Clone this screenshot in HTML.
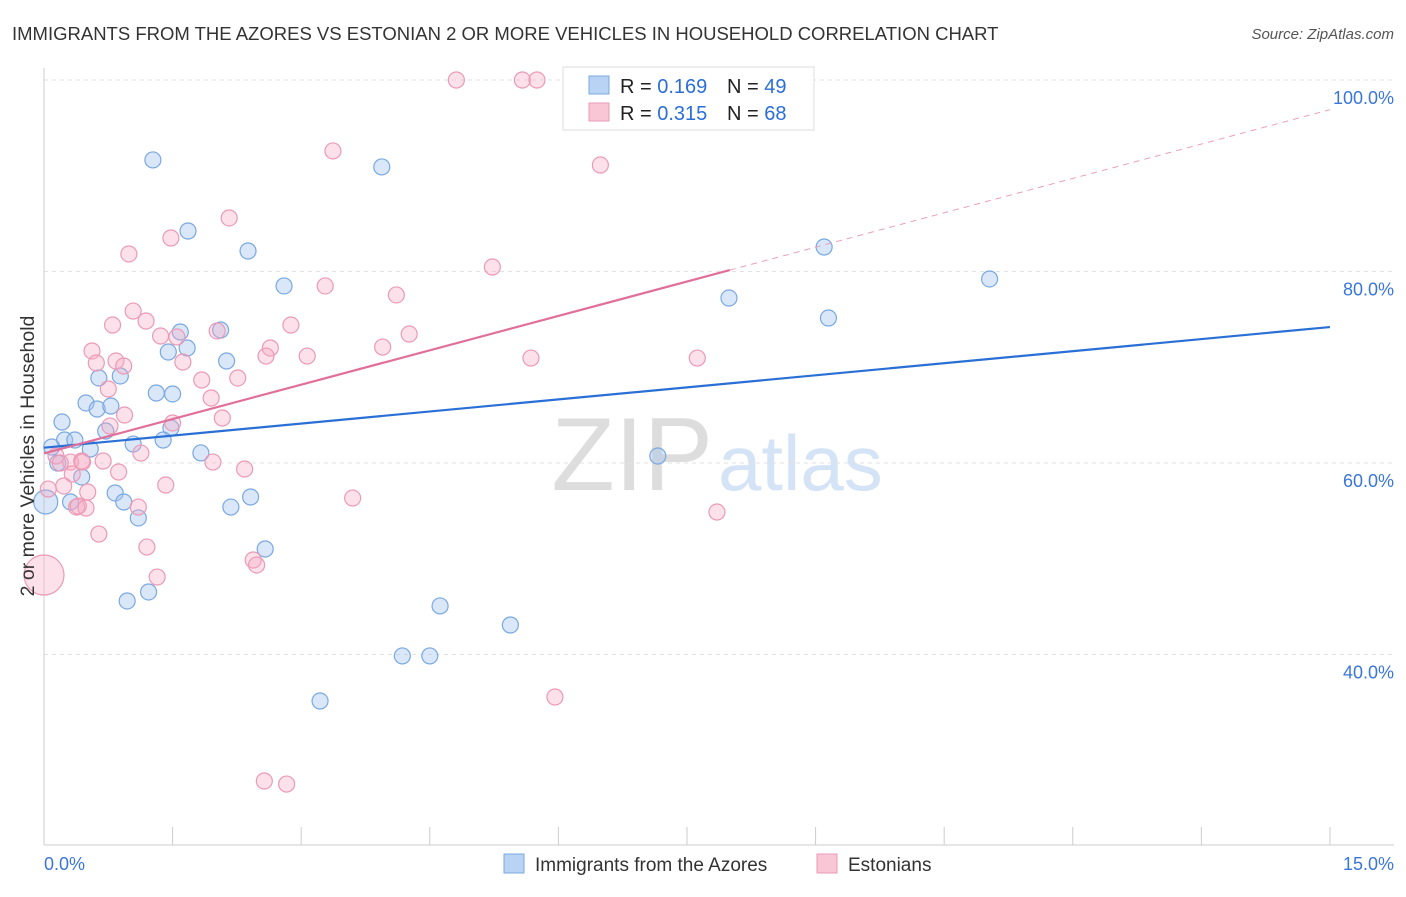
<!DOCTYPE html>
<html><head><meta charset="utf-8"><style>
body{margin:0;background:#fff;font-family:"Liberation Sans",sans-serif}
svg text{font-family:"Liberation Sans",sans-serif}
</style></head><body>
<svg id="c" width="1406" height="892" xmlns="http://www.w3.org/2000/svg">
<text x="12" y="40" font-size="18.5" fill="#333">IMMIGRANTS FROM THE AZORES VS ESTONIAN 2 OR MORE VEHICLES IN HOUSEHOLD CORRELATION CHART</text>
<text x="1394" y="39" font-size="15" fill="#555" font-style="italic" text-anchor="end">Source: ZipAtlas.com</text>
<text x="713" y="490" font-size="104" fill="#ddd" text-anchor="end" font-family="Liberation Serif">ZIP</text>
<text x="718" y="490" font-size="78" fill="#d4e3f5">atlas</text>
<g id="grid"></g><g id="marks"></g><g id="lines"></g>
<text transform="translate(34,456) rotate(-90)" font-size="19.5" fill="#333" text-anchor="middle">2 or more Vehicles in Household</text>
<g>
<rect x="563" y="67" width="251" height="63" fill="#fff" stroke="#ddd"/>
<rect x="589" y="76" width="20" height="18" fill="#b9d3f5" stroke="#7aa8e0"/>
<rect x="589" y="103" width="20" height="18" fill="#f9c6d5" stroke="#eb9ab5"/>
<text x="620" y="93" font-size="20" fill="#222">R = <tspan fill="#2a6fd6">0.169</tspan></text>
<text x="727" y="93" font-size="20" fill="#222">N = <tspan fill="#2a6fd6">49</tspan></text>
<text x="620" y="120" font-size="20" fill="#222">R = <tspan fill="#2a6fd6">0.315</tspan></text>
<text x="727" y="120" font-size="20" fill="#222">N = <tspan fill="#2a6fd6">68</tspan></text>
</g>
<g>
<rect x="504" y="854" width="20" height="19" fill="#b9d3f5" stroke="#7aa8e0"/>
<text x="535" y="871" font-size="19" fill="#333">Immigrants from the Azores</text>
<rect x="817" y="854" width="20" height="19" fill="#f9c6d5" stroke="#eb9ab5"/>
<text x="848" y="871" font-size="19" fill="#333">Estonians</text>
</g>
<text x="44" y="870" font-size="18" fill="#3a76d8">0.0%</text>
<text x="1394" y="870" font-size="18" fill="#3a76d8" text-anchor="end">15.0%</text>
</svg>
<script>
const yTicks=[40,60,80,100];
const yTickLabels=["40.0%","60.0%","80.0%","100.0%"];
const blueX=[1.27,3.94,1.68,2.38,9.10,11.03,2.80,7.99,9.15,1.59,2.06,1.45,1.67,2.13,0.89,0.64,1.31,1.50,0.49,0.62,0.78,0.21,0.72,1.48,0.24,0.36,1.04,1.39,0.54,0.09,1.83,7.16,0.16,0.44,0.83,0.93,0.31,2.41,2.18,1.10,0.02,2.58,0.97,1.22,4.62,5.44,4.18,4.50,3.22];
const blueY=[91.65,90.92,84.23,82.14,82.56,79.22,78.49,77.23,75.14,73.68,73.89,71.59,72.01,70.65,69.09,68.88,67.31,67.21,66.27,65.64,65.95,64.28,63.34,63.66,62.40,62.40,61.98,62.40,61.46,61.67,61.05,60.73,60,58.54,56.87,55.93,55.93,56.45,55.40,54.26,55.93,51.02,45.59,46.53,45.07,43.08,39.85,39.85,35.14];
const blueBig=[40];
const pinkX=[4.81,5.58,5.75,3.37,6.49,2.16,0.99,1.48,5.23,3.28,4.11,1.04,0.80,1.19,2.88,2.02,4.26,1.36,1.55,0.56,2.64,3.95,5.68,7.62,3.07,2.59,0.84,0.61,0.93,1.62,1.84,2.26,0.75,1.95,0.94,2.08,1.50,0.77,0.14,1.13,0.31,0.44,0.69,1.97,2.34,0.87,0.33,0.23,1.42,0.05,0.51,3.60,0.38,1.10,0.49,7.85,0.64,1.20,0,1.32,2.44,2.48,5.96,2.57,2.83,0.45,0.19,0.40];
const pinkY=[100,100,100,92.59,91.12,85.59,81.83,83.50,80.47,78.49,77.55,75.87,74.41,74.83,74.41,73.79,73.47,73.26,73.16,71.70,72.01,72.11,70.96,70.96,71.17,71.17,70.65,70.44,70.13,70.55,68.67,68.88,67.73,66.79,65.01,64.70,64.18,63.86,60.73,61.04,60.10,60.21,60.21,60.10,59.37,59.06,58.85,57.60,57.70,57.28,56.97,56.34,55.40,55.40,55.30,54.88,52.58,51.22,48.30,48.09,49.87,49.35,35.56,26.79,26.47,60.10,60,55.5];
const pinkBig=[58];
const blueTrend=[61.6,74.2];
const pinkTrend=[61.0,96.9];
const pinkSolidEnd=8.0;
const NS="http://www.w3.org/2000/svg";
const X=v=>44+v*85.73, Y=v=>463-(v-60)*9.575;
function mk(t,a,p){const e=document.createElementNS(NS,t);for(const k in a)e.setAttribute(k,a[k]);p.appendChild(e);return e;}
const g=document.getElementById('grid'),m=document.getElementById('marks'),l=document.getElementById('lines');
yTicks.forEach((t,i)=>{const ln=mk('line',{x1:44,x2:1394,y1:Y(t),y2:Y(t),stroke:'#e2e2e2','stroke-dasharray':'4,4'},g);


const tx=mk('text',{x:1394,y:Y(t)+24,'font-size':18,fill:'#3a76d8','text-anchor':'end'},g);tx.textContent=yTickLabels[i];

});
const ax=mk('line',{x1:44,x2:1394,y1:845,y2:845,stroke:'#ccc'},g);


const ay=mk('line',{x1:44,x2:44,y1:68,y2:845,stroke:'#ccc'},g);


for(let i=0;i<=10;i++){const tk=mk('line',{x1:X(i*1.5),x2:X(i*1.5),y1:827,y2:845,stroke:'#ccc'},g);

}
function pts(xs,ys,big,fill,stroke,name){xs.forEach((x,i)=>{const c=mk('circle',{cx:X(x),cy:Y(ys[i]),r:big.includes(i)?(name=='pink-point'?20:12):8,fill:fill,stroke:stroke,'stroke-width':1.2},m);

});}
pts(blueX,blueY,blueBig,'rgba(160,195,240,0.4)','#7aa8e0','blue-point');
pts(pinkX,pinkY,pinkBig,'rgba(245,170,195,0.35)','#eb9ab5','pink-point');
const bt=mk('line',{x1:X(0),y1:Y(blueTrend[0]),x2:X(15),y2:Y(blueTrend[1]),stroke:'#2a6fd6','stroke-width':2.2},l);


const py=x=>pinkTrend[0]+(pinkTrend[1]-pinkTrend[0])*x/15;
const pt=mk('line',{x1:X(0),y1:Y(py(0)),x2:X(pinkSolidEnd),y2:Y(py(pinkSolidEnd)),stroke:'#e0709a','stroke-width':2.2},l);


const pd=mk('line',{x1:X(pinkSolidEnd),y1:Y(py(pinkSolidEnd)),x2:X(15),y2:Y(py(15)),stroke:'#e8a0b8','stroke-width':1,'stroke-dasharray':'6,5'},l);


</script>
</body></html>
